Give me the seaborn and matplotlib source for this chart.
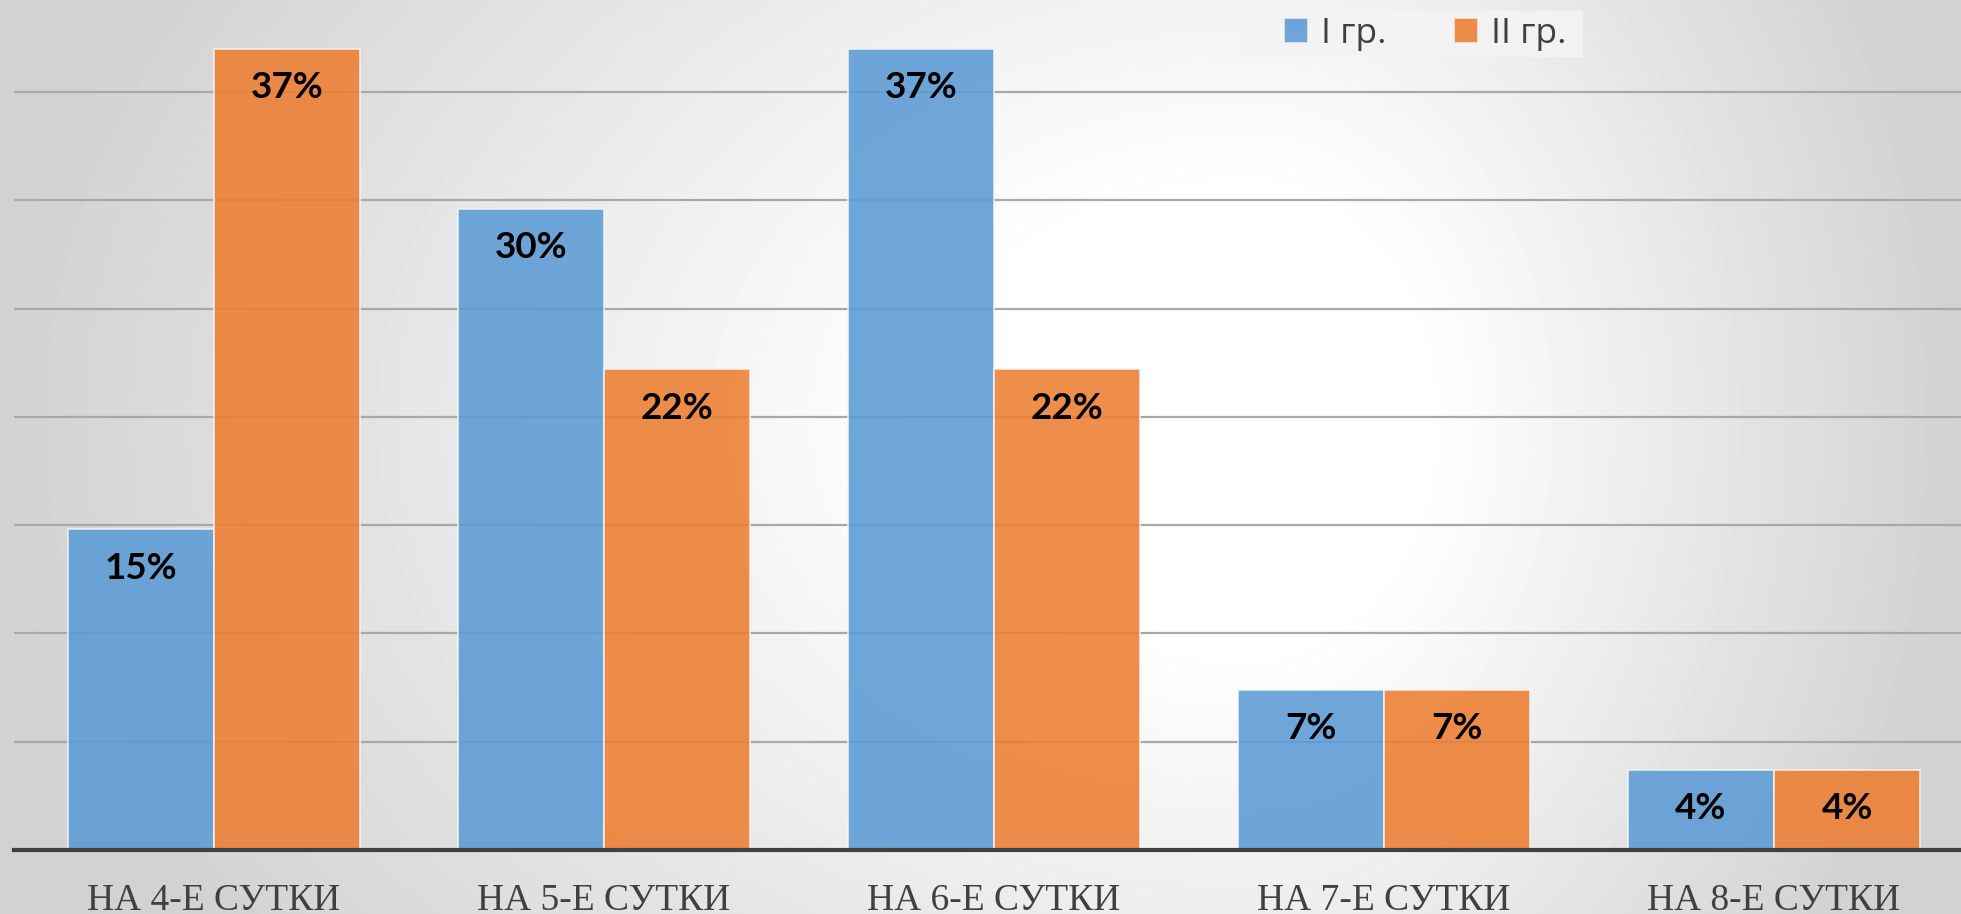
import matplotlib
matplotlib.use("Agg")
import matplotlib.pyplot as plt
import numpy as np
import pandas as pd
import seaborn as sns
from matplotlib.patches import Rectangle

# --------------------
# data
# --------------------
days = ['НА 4-Е СУТКИ', 'НА 5-Е СУТКИ', 'НА 6-Е СУТКИ', 'НА 7-Е СУТКИ', 'НА 8-Е СУТКИ']
groups = ['I гр.', 'II гр.']
group_1 = [14.8, 29.6, 37.0, 7.4, 3.7]
group_2 = [37.0, 22.2, 22.2, 7.4, 3.7]

df = pd.DataFrame({
    'day': days * 2,
    'group': [groups[0]] * len(days) + [groups[1]] * len(days),
    'value': group_1 + group_2,
})

W, H, DPI = 1961, 914, 100
fig = plt.figure(figsize=(W / DPI, H / DPI), dpi=DPI)

# background: soft radial gradient (light centre, grey edges)
bg = fig.add_axes([0, 0, 1, 1], zorder=-10)
yy, xx = np.mgrid[0:H, 0:W]
cx, cy = 1250, 420
dx = np.where(xx < cx, (xx - cx) / 1250, (xx - cx) / 700)
dy = (yy - cy) / 900
d = np.sqrt(dx ** 2 + dy ** 2)
shade = 255 - 45 * np.clip((d - 0.25) / 0.75, 0, 1)
bg.imshow(shade, cmap='gray', vmin=0, vmax=255, aspect='auto', interpolation='bilinear')
bg.axis('off')

# plot area
x0, x_axis = 14, 850
ax = fig.add_axes([x0 / W, (H - x_axis) / H, 1 - x0 / W, x_axis / H])
ax.patch.set_alpha(0)

sns.barplot(data=df, x='day', y='value', hue='group', width=0.75, saturation=1,
            palette=['#5B9BD5', '#ED7D31'], alpha=0.88,
            edgecolor='#f4f4f4', linewidth=1.2, ax=ax, zorder=3)

cat_w = 390
ax.set_xlim((x0 - 214) / cat_w, (W - 214) / cat_w)
ax.set_ylim(0, x_axis / 108.3 * 5)
ax.set_yticks(np.arange(5, 40, 5))
ax.yaxis.grid(True, color='#a8a8a8', linewidth=1.6, zorder=0)
ax.set_axisbelow(True)
ax.tick_params(axis='y', left=False, labelleft=False)
ax.tick_params(axis='x', length=0, pad=24)
for t in ax.get_xticklabels():
    t.set_fontfamily('Liberation Serif')
    t.set_fontsize(27)
    t.set_color('#404040')
ax.set_xlabel('')
ax.set_ylabel('')
for s in ['top', 'right', 'left']:
    ax.spines[s].set_visible(False)
ax.spines['bottom'].set_color('#404040')
ax.spines['bottom'].set_linewidth(3)
ax.spines['bottom'].set_zorder(5)

# value labels inside the bars
for cont in ax.containers:
    for bar in cont:
        h = bar.get_height()
        ax.annotate(f"{h:.0f}%", xy=(bar.get_x() + bar.get_width() / 2, h),
                    xytext=(0, -28), textcoords='offset points',
                    ha='center', va='center', fontsize=26.5, fontweight='bold',
                    color='black', family=['Lato', 'DejaVu Sans'], zorder=6)

# legend: light box behind, content centred in it
fig.patches.append(Rectangle((1239 / W, 1 - 57 / H), (1583 - 1239) / W, 46 / H,
                             transform=fig.transFigure, facecolor='#f4f4f4',
                             edgecolor='none', alpha=0.85, zorder=-5))
leg = fig.legend(*ax.get_legend_handles_labels(), loc='center',
                 bbox_to_anchor=(1425 / W, 1 - 34 / H),
                 ncol=2, frameon=False, handlelength=0.7, handleheight=0.7,
                 handletextpad=0.35, columnspacing=1.9, borderpad=0,
                 prop={'family': ['Open Sans', 'DejaVu Sans'], 'size': 25.5})
ax.get_legend().remove()
for t in leg.get_texts():
    t.set_color('#404040')

fig.savefig('out.png', dpi=DPI)
